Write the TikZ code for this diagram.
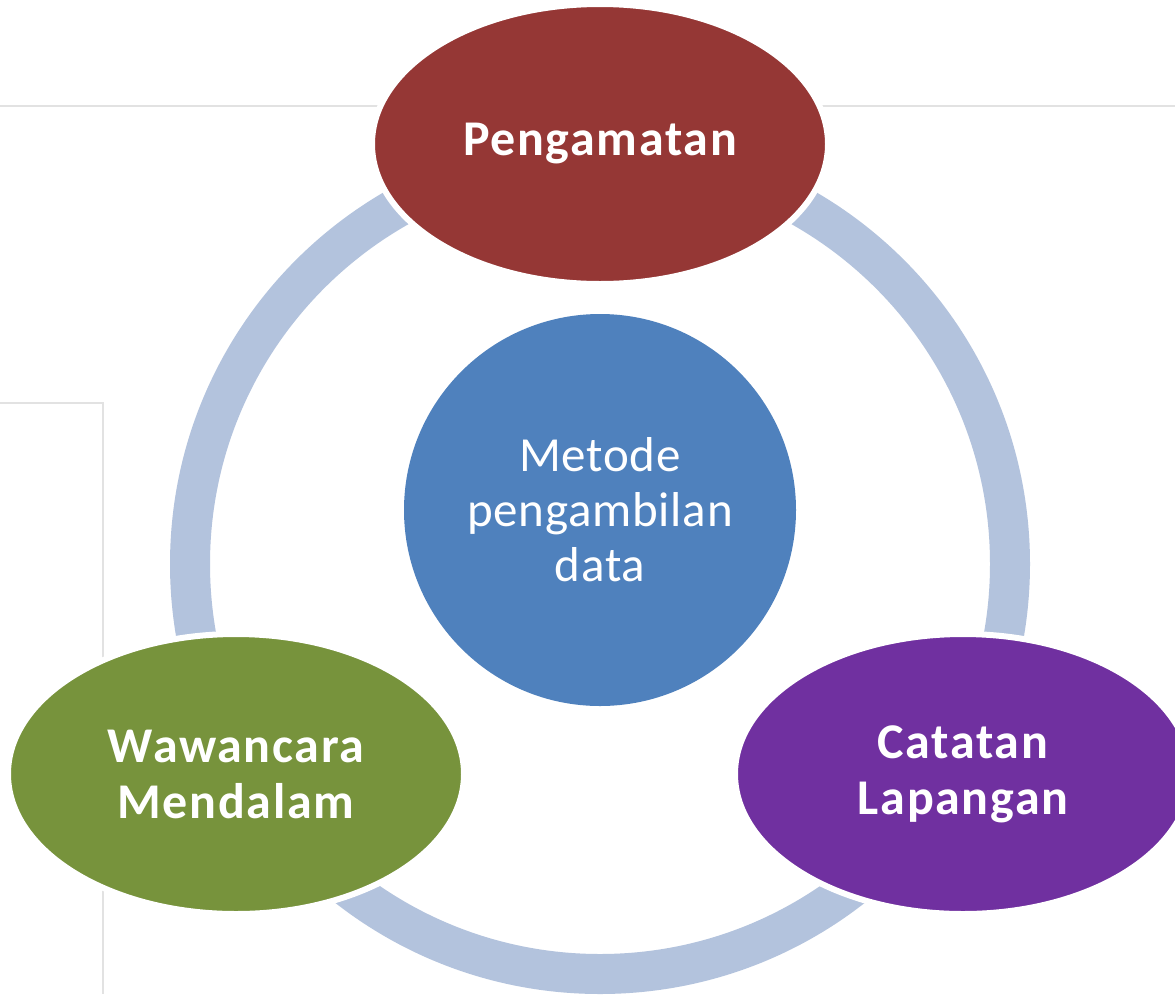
\documentclass[tikz,border=0pt]{standalone}
\usepackage{fontspec}
\setmainfont{Carlito}
\usepackage{tikz}
\usetikzlibrary{shapes,shapes.geometric}
\definecolor{lingkar}{HTML}{B3C3DD}
\definecolor{merah}{HTML}{953735}
\definecolor{biru}{HTML}{4F81BD}
\definecolor{hijau}{HTML}{77933C}
\definecolor{ungu}{HTML}{7030A0}
\definecolor{garis}{HTML}{E2E2E2}
\tikzset{
  metode/.style={ellipse,draw=white,line width=6pt,text=white,inner sep=0pt,
    minimum width=456pt,minimum height=280pt,align=center,
    font=\fontsize{50}{56}\selectfont\bfseries\addfontfeatures{LetterSpace=3.4}},
  pusat/.style={circle,fill=biru,text=white,inner sep=0pt,minimum size=392pt,
    align=center,font=\fontsize{49}{55}\selectfont\addfontfeatures{LetterSpace=1.6}}
}

\begin{document}
\begin{tikzpicture}[x=1pt,y=-1pt]
			\useasboundingbox (0,0) rectangle (1175,994);
			\fill[white] (0,0) rectangle (1175,994);
			% garis latar
			\draw[garis,line width=2.5pt] (0,106)-- (1175,106);
			\draw[garis,line width=2.5pt] (0,403)-- (103,403)-- (103,994);
			% lingkaran
			\coordinate (O) at (600,564);
			\draw[lingkar,line width=40pt] (O) circle (410);
			\node[pusat] (data) at (600,510) {Metode\\pengambilan\\data};
			\node[metode,fill=merah] (amat) at (600,144) {Pengamatan};
			\node[metode,fill=hijau] (wawan) at (236,774) {Wawancara\\Mendalam};
			\node[metode,fill=ungu] (catat) at (963,774) {Catatan\\Lapangan};
		\end{tikzpicture}
\end{document}
